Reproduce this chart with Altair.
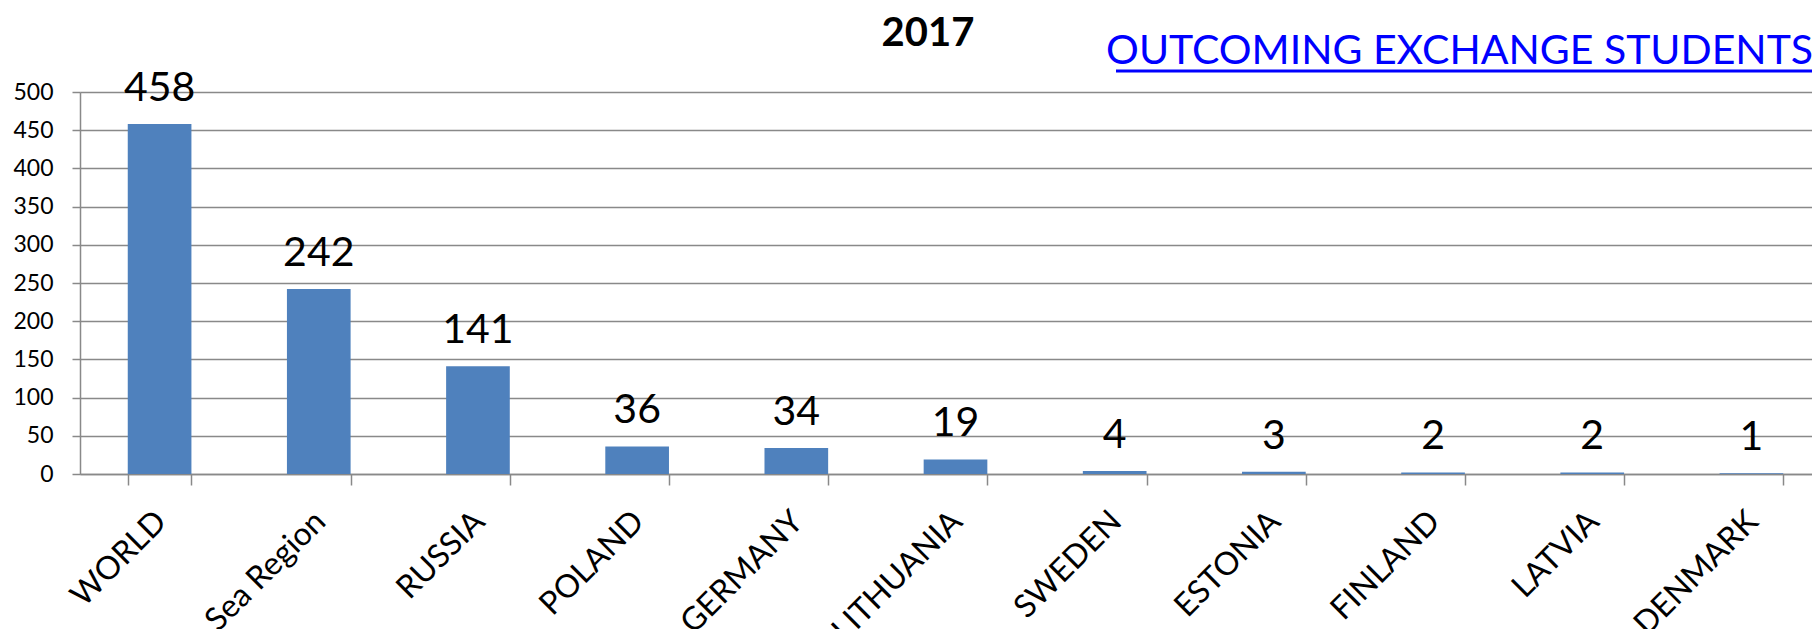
import altair as alt
import pandas as pd

# ---- data ----
categories = ["WORLD", "Baltic Sea Region", "RUSSIA", "POLAND", "GERMANY",
              "LITHUANIA", "SWEDEN", "ESTONIA", "FINLAND", "LATVIA", "DENMARK"]
students = [458, 242, 141, 36, 34, 19, 4, 3, 2, 2, 1]
y_ticks = [0, 50, 100, 150, 200, 250, 300, 350, 400, 450, 500]
title_text = ["2017"]
header_text = ["OUTCOMING EXCHANGE STUDENTS"]

df = pd.DataFrame({"country": categories, "students": students})

W = 1732
H = 382
GRID = "#898989"
BAR = "#4F81BD"
BLUE = "#0000FF"
FONT = "Lato"

x_enc = alt.X(
    "country:N",
    sort=None,
    scale=alt.Scale(range=[0, 1751], paddingInner=0.6, paddingOuter=0.3),
    axis=alt.Axis(
        title=None, labelAngle=-45, labelAlign="right", labelBaseline="middle",
        labelFont=FONT, labelFontSize=32, labelColor="black",
        labelPadding=31, labelOffset=1, labelLimit=1000, labelOverlap=False,
        tickSize=11, tickColor=GRID, tickWidth=1.5, tickBand="extent",
        domainColor=GRID, domainWidth=1.5, grid=False,
    ),
)
y_enc = alt.Y(
    "students:Q",
    scale=alt.Scale(domain=[0, 500], nice=False),
    axis=alt.Axis(
        values=y_ticks, title=None, labelFont=FONT, labelFontSize=23,
        labelColor="black", labelPadding=19, tickSize=8, tickColor=GRID,
        tickWidth=1.5, domainColor=GRID, domainWidth=1.5,
        gridColor=GRID, gridWidth=1.5,
    ),
)

base = alt.Chart(df)
bars = base.mark_bar(color=BAR).encode(x=x_enc, y=y_enc)
labels = base.mark_text(font=FONT, fontSize=41, baseline="alphabetic", dy=-23,
                        color="black").encode(x=x_enc, y=y_enc, text="students:Q")

tdf = pd.DataFrame({"t": title_text})
title = alt.Chart(tdf).mark_text(font=FONT, fontSize=40, fontWeight="bold",
                                 color="black", align="center",
                                 baseline="alphabetic").encode(
    text="t:N", x=alt.value(848), y=alt.value(-46))

hdf = pd.DataFrame({"t": header_text})
header = alt.Chart(hdf).mark_text(font=FONT, fontSize=41, color=BLUE, align="right",
                                  baseline="alphabetic").encode(
    text="t:N", x=alt.value(1733), y=alt.value(-28))
underline = alt.Chart(hdf).mark_rule(color=BLUE, strokeWidth=3).encode(
    x=alt.value(1036), x2=alt.value(1733), y=alt.value(-21))

chart = alt.layer(bars, labels, title, header, underline).properties(
    width=W, height=H,
    autosize=alt.AutoSizeParams(type="none"),
    padding={"left": 72, "top": 84, "right": 0, "bottom": 155},
).configure_view(stroke=None).configure(background="white")

chart.save("out.html", embed_options={"renderer": "svg", "actions": False})
